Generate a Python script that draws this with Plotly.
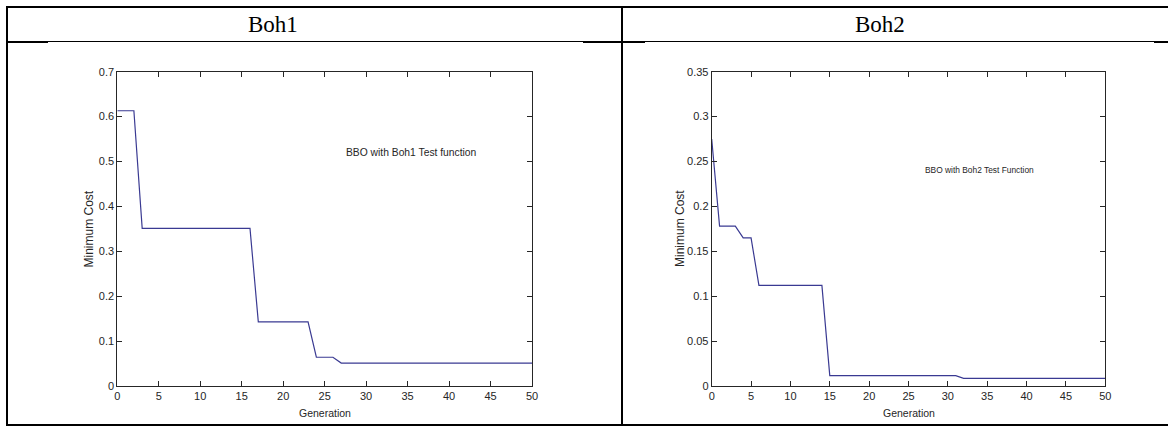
import plotly.graph_objects as go

# ---- data -------------------------------------------------------------
generation = [0, 1, 2, 3, 4, 5, 6, 7, 8, 9, 10, 11, 12, 13, 14, 15, 16, 17, 18, 19,
              20, 21, 22, 23, 24, 25, 26, 27, 28, 29, 30, 31, 32, 33, 34, 35, 36, 37,
              38, 39, 40, 41, 42, 43, 44, 45, 46, 47, 48, 49, 50]

boh1_cost = [0.613, 0.613, 0.613, 0.351, 0.351, 0.351, 0.351, 0.351, 0.351, 0.351,
             0.351, 0.351, 0.351, 0.351, 0.351, 0.351, 0.351, 0.143, 0.143, 0.143,
             0.143, 0.143, 0.143, 0.143, 0.064, 0.064, 0.064, 0.051, 0.051, 0.051,
             0.051, 0.051, 0.051, 0.051, 0.051, 0.051, 0.051, 0.051, 0.051, 0.051,
             0.051, 0.051, 0.051, 0.051, 0.051, 0.051, 0.051, 0.051, 0.051, 0.051,
             0.051]

boh2_cost = [0.275, 0.178, 0.178, 0.178, 0.165, 0.165, 0.112, 0.112, 0.112, 0.112,
             0.112, 0.112, 0.112, 0.112, 0.112, 0.0115, 0.0115, 0.0115, 0.0115, 0.0115,
             0.0115, 0.0115, 0.0115, 0.0115, 0.0115, 0.0115, 0.0115, 0.0115, 0.0115, 0.0115,
             0.0115, 0.0115, 0.0086, 0.0086, 0.0086, 0.0086, 0.0086, 0.0086, 0.0086, 0.0086,
             0.0086, 0.0086, 0.0086, 0.0086, 0.0086, 0.0086, 0.0086, 0.0086, 0.0086, 0.0086,
             0.0086]

x_ticks = [0, 5, 10, 15, 20, 25, 30, 35, 40, 45, 50]
x_tick_text = ["0", "5", "10", "15", "20", "25", "30", "35", "40", "45", "50"]
boh1_y_ticks = [0, 0.1, 0.2, 0.3, 0.4, 0.5, 0.6, 0.7]
boh1_y_text = ["0", "0.1", "0.2", "0.3", "0.4", "0.5", "0.6", "0.7"]
boh2_y_ticks = [0, 0.05, 0.1, 0.15, 0.2, 0.25, 0.3, 0.35]
boh2_y_text = ["0", "0.05", "0.1", "0.15", "0.2", "0.25", "0.3", "0.35"]

headers = ["Boh1", "Boh2"]
notes = ["BBO with Boh1 Test function", "BBO with Boh2 Test Function"]

# ---- layout helpers ---------------------------------------------------
W, H = 1168, 428


def px(x):
    return x / W


def py(y):
    return 1 - y / H


SANS = "Liberation Sans, Arial, sans-serif"
SERIF = "Liberation Serif, Times New Roman, serif"
INK = "#262626"
LINE = "#3a3a92"

fig = go.Figure()
fig.add_trace(go.Scatter(x=generation, y=boh1_cost, mode="lines",
                         line=dict(color=LINE, width=1.2),
                         xaxis="x", yaxis="y", showlegend=False))
fig.add_trace(go.Scatter(x=generation, y=boh2_cost, mode="lines",
                         line=dict(color=LINE, width=1.2),
                         xaxis="x2", yaxis="y2", showlegend=False))

axis_common = dict(showline=True, linecolor=INK, linewidth=1, mirror="ticks",
                   ticks="inside", ticklen=5, tickcolor=INK, tickwidth=1,
                   showgrid=False, zeroline=False, automargin=False,
                   tickfont=dict(family=SANS, size=11, color=INK))

plot_bottom, plot_top = 386, 71.7
fig.update_layout(
    width=W, height=H,
    margin=dict(l=0, r=0, t=0, b=0),
    paper_bgcolor="white", plot_bgcolor="white",
    xaxis=dict(domain=[px(117.3), px(532)], range=[0, 50], anchor="y",
               tickvals=x_ticks, ticktext=x_tick_text, **axis_common),
    yaxis=dict(domain=[py(plot_bottom), py(plot_top)], range=[0, 0.7], anchor="x",
               tickvals=boh1_y_ticks, ticktext=boh1_y_text, **axis_common),
    xaxis2=dict(domain=[px(711.7), px(1105.3)], range=[0, 50], anchor="y2",
                tickvals=x_ticks, ticktext=x_tick_text, **axis_common),
    yaxis2=dict(domain=[py(plot_bottom), py(plot_top)], range=[0, 0.35], anchor="x2",
                tickvals=boh2_y_ticks, ticktext=boh2_y_text, **axis_common),
)

annotations = []
# column headers
for text, cx in zip(headers, [272.5, 880]):
    annotations.append(dict(text=text, x=px(cx), y=py(24), xref="paper", yref="paper",
                            showarrow=False, xanchor="center", yanchor="middle",
                            font=dict(family=SERIF, size=23, color="black")))
# axis titles
for cx in [324.7, 908.5]:
    annotations.append(dict(text="Generation", x=px(cx), y=py(413), xref="paper",
                            yref="paper", showarrow=False, xanchor="center",
                            yanchor="middle",
                            font=dict(family=SANS, size=10.5, color=INK)))
for cx in [88.5, 680]:
    annotations.append(dict(text="Minimum Cost", x=px(cx), y=py(229), xref="paper",
                            yref="paper", showarrow=False, textangle=-90,
                            xanchor="center", yanchor="middle",
                            font=dict(family=SANS, size=12, color=INK)))
# in-plot notes
annotations.append(dict(text=notes[0], x=27.3, y=0.52, xref="x", yref="y",
                        showarrow=False, xanchor="left", yanchor="middle",
                        font=dict(family=SANS, size=10.3, color=INK)))
annotations.append(dict(text=notes[1], x=26.9, y=0.241, xref="x2", yref="y2",
                        showarrow=False, xanchor="left", yanchor="middle",
                        font=dict(family=SANS, size=8.4, color=INK)))
fig.update_layout(annotations=annotations)

# table rules around the two cells
shapes = []


def rule(x0, y0, x1, y1, w):
    shapes.append(dict(type="line", xref="paper", yref="paper",
                       x0=px(x0), y0=py(y0), x1=px(x1), y1=py(y1),
                       line=dict(color="black", width=w)))


rule(6, 7, W, 7, 2)          # top border
rule(7, 6, 7, 426, 2)        # left border
rule(622, 6, 622, 426, 2)    # column divider
rule(6, 425, W, 425, 2)      # bottom border
rule(6, 41.5, W, 41.5, 1)    # header separator
rule(6, 42, 48, 42, 2)
rule(583, 42, 645, 42, 2)
rule(1154, 42, W, 42, 2)
fig.update_layout(shapes=shapes)

fig.write_html("out.html")
